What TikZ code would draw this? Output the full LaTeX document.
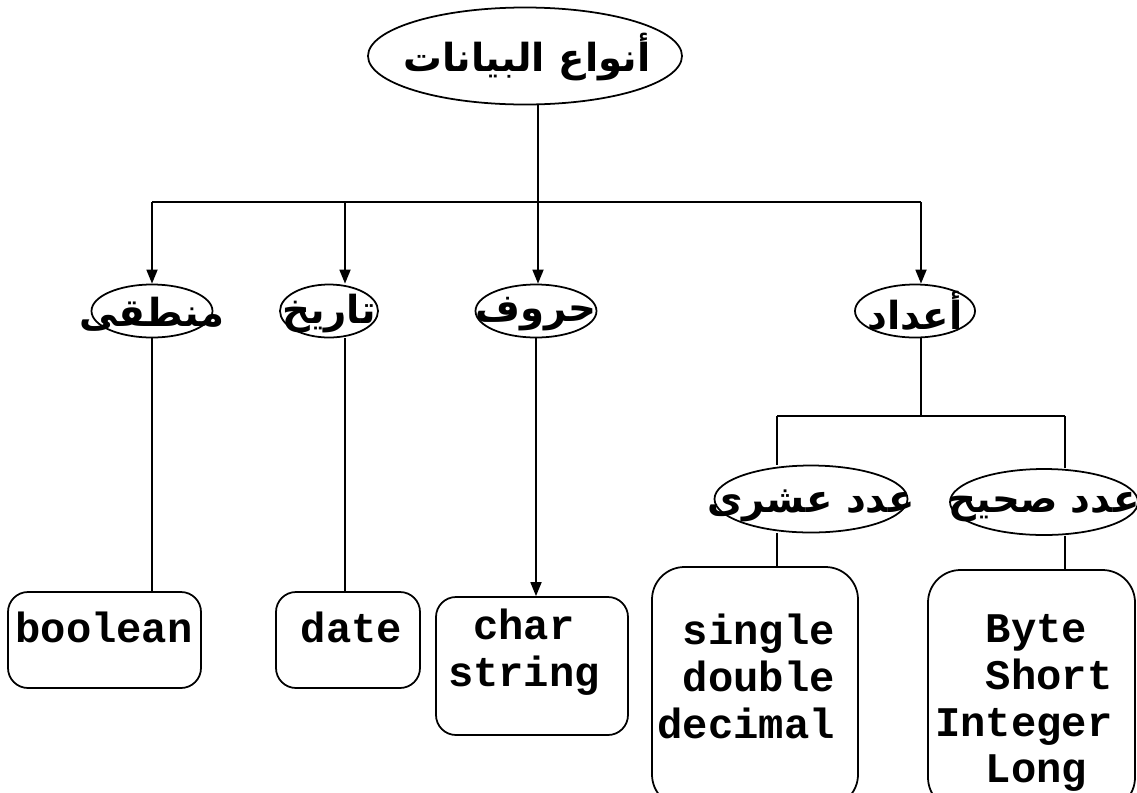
\documentclass[tikz,border=0pt]{standalone}
\usepackage{fontspec}
\newfontfamily\arabicfont[Script=Arabic]{DejaVu Sans}
\newfontfamily\codefont{Liberation Mono}
\TeXXeTstate=1
\usetikzlibrary{arrows.meta,shapes.geometric}
\tikzset{
	oval/.style={draw, ellipse, line width=1pt, inner sep=0pt},
	rbox/.style={draw, rounded corners=0.4cm, line width=1pt, inner sep=0pt},
	artext/.style={font=\arabicfont\bfseries\fontsize{22}{26}\selectfont, inner sep=0pt},
	code/.style={font=\codefont\bfseries\fontsize{24}{26.7}\selectfont, inner sep=0pt},
	link/.style={line width=1pt},
	arr/.style={line width=1pt, -{Triangle[length=0.28cm, width=0.22cm]}},
}

\begin{document}
\begin{tikzpicture}
		%%%%% START %%%%%
		\useasboundingbox (0, 0) rectangle (22.74, -15.84);
		
		% root
		\node[oval, minimum width=6.28cm, minimum height=1.94cm] (root) at (10.5, -1.12) {};
		\node[artext] (rootTxt) at (10.54, -1.14) {\beginR أنواع البيانات\endR};
		
		\coordinate (hub) at (10.76, -4.04);
		\draw[link] (root.south -| hub) -- (hub);
		
		% second level
		\node[oval, minimum width=2.42cm, minimum height=1.06cm] (logic) at (3.04, -6.22) {};
		\node[artext] (logicTxt) at ([yshift=-0.06cm]logic.center) {\beginR منطقى\endR};
		\node[oval, minimum width=1.96cm, minimum height=1.06cm] (dateE) at (6.58, -6.22) {};
		\node[artext] (dateTxt) at ([yshift=-0.06cm]dateE.center) {\beginR تاريخ\endR};
		\node[oval, minimum width=2.42cm, minimum height=1.06cm] (chars) at (10.72, -6.22) {};
		\node[artext] (charsTxt) at ([yshift=-0.06cm]chars.center) {\beginR حروف\endR};
		\node[oval, minimum width=2.4cm, minimum height=1.06cm] (nums) at (18.3, -6.22) {};
		\node[artext] (numsTxt) at (nums) {\beginR أعداد\endR};
		
		\coordinate (b1) at (3.04, -4.04);
		\coordinate (b2) at (6.9, -4.04);
		\coordinate (b4) at (18.42, -4.04);
		\draw[link] (b1) -- (b4);
		\draw[arr] (b1) -- (logic.north);
		\draw[arr] (b2) -- (b2 |- dateE.north);
		\draw[arr] (hub) -- (hub |- chars.north);
		\draw[arr] (b4) -- (b4 |- nums.north);
		
		% numbers
		\coordinate (s1) at (15.54, -8.32);
		\coordinate (s2) at (21.3, -8.32);
		\draw[link] (b4 |- nums.south) -- (b4 |- s1);
		\draw[link] (s1) -- (s2);
		
		\node[oval, minimum width=3.86cm, minimum height=1.34cm] (dec) at (16.22, -9.98) {};
		\node[artext] (decTxt) at ([yshift=-0.14cm]dec.center) {\beginR عدد عشرى\endR};
		\node[oval, minimum width=3.76cm, minimum height=1.32cm] (int) at (20.88, -10.04) {};
		\node[artext] (intTxt) at ([yshift=-0.1cm]int.center) {\beginR عدد صحيح\endR};
		\draw[link] (s1) -- (s1 |- dec.north);
		\draw[link] (s2) -- (s2 |- int.north);
		
		% boxes
		\node[rbox, minimum width=3.86cm, minimum height=1.92cm] (boolBox) at (2.09, -12.8) {};
		\node[code] (boolTxt) at (2.08, -12.54) {boolean};
		\node[rbox, minimum width=2.88cm, minimum height=1.92cm] (dateBox) at (6.96, -12.8) {};
		\node[code] (dateBoxTxt) at (7.03, -12.54) {date};
		\node[rbox, minimum width=3.84cm, minimum height=2.76cm] (charBox) at (10.64, -13.32) {};
		\node[code, align=center] (charBoxTxt) at (10.48, -13.04) {char\\string};
		\node[rbox, rounded corners=0.65cm, minimum width=4.12cm, minimum height=4.8cm] (decBox) at (15.1, -13.74) {};
		\node[code, align=right, anchor=east] (decBoxTxt) at (16.7, -13.52) {single\\double\\decimal};
		\node[rbox, rounded corners=0.65cm, minimum width=4.14cm, minimum height=4.8cm] (intBox) at (20.63, -13.8) {};
		\node[code, align=left, anchor=west] (intBoxTxt) at (18.7, -14.06) {\hphantom{XX}Byte\\\hphantom{XX}Short\\Integer\\\hphantom{XX}Long};
		
		\draw[link] (logic.south) -- (logic.south |- boolBox.north);
		\draw[link] (b2 |- dateE.south) -- (b2 |- dateBox.north);
		\draw[arr] (chars.south) -- (chars.south |- charBox.north);
		\draw[link] (s1 |- dec.south) -- (s1 |- decBox.north);
		\draw[link] (s2 |- int.south) -- (s2 |- intBox.north);
		
		%%%%% END %%%%%
	\end{tikzpicture}
\end{document}
